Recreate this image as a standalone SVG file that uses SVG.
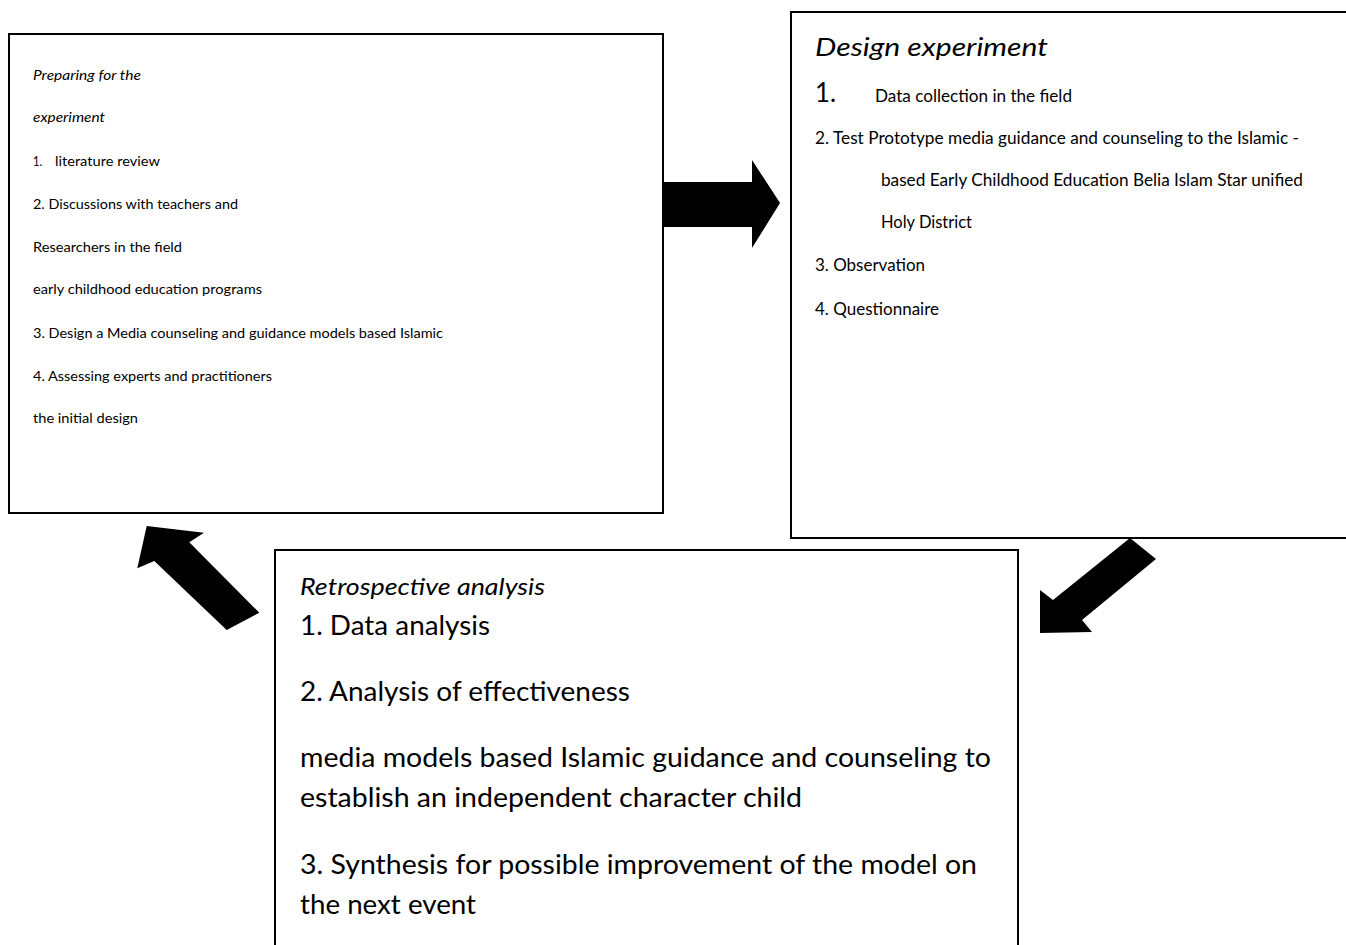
<svg xmlns="http://www.w3.org/2000/svg" width="1346" height="945" viewBox="0 0 1346 945">
  <style>
    .box { fill: #fff; stroke: #000; stroke-width: 2; }
    .t { font-family: Lato, "Open Sans", "Liberation Sans", sans-serif; fill: #000; }
    .it { font-style: italic; }
    .sm { font-size: 14px; }
    .md { font-size: 16.6px; }
    .lg { font-size: 26px; }
    .bd { font-size: 27px; }
    .arrow { fill: #000; stroke: none; }
  </style>

  <rect x="0" y="0" width="1346" height="945" fill="#fff"/>

  <!-- Phase 1: preparing for the experiment -->
  <g id="node-preparing">
    <rect class="box" x="9" y="34" width="654" height="479"/>
    <g class="t sm">
      <text class="it" x="33" y="80" textLength="108" lengthAdjust="spacingAndGlyphs">Preparing for the</text>
      <text class="it" x="33" y="122" textLength="72" lengthAdjust="spacingAndGlyphs">experiment</text>
      <text x="33" y="166" textLength="9" lengthAdjust="spacingAndGlyphs">1.</text>
      <text x="55" y="166" textLength="105" lengthAdjust="spacingAndGlyphs">literature review</text>
      <text x="33" y="209" textLength="205" lengthAdjust="spacingAndGlyphs">2. Discussions with teachers and</text>
      <text x="33" y="252" textLength="149" lengthAdjust="spacingAndGlyphs">Researchers in the field</text>
      <text x="33" y="294" textLength="229" lengthAdjust="spacingAndGlyphs">early childhood education programs</text>
      <text x="33" y="338" textLength="410" lengthAdjust="spacingAndGlyphs">3. Design a Media counseling and guidance models based Islamic</text>
      <text x="33" y="381" textLength="239" lengthAdjust="spacingAndGlyphs">4. Assessing experts and practitioners</text>
      <text x="33" y="423" textLength="105" lengthAdjust="spacingAndGlyphs">the initial design</text>
    </g>
  </g>

  <!-- Phase 2: design experiment -->
  <g id="node-design">
    <rect class="box" x="791" y="12" width="600" height="526"/>
    <g class="t">
      <text class="lg it" x="815" y="56" textLength="233" lengthAdjust="spacingAndGlyphs">Design experiment</text>
      <text class="lg" x="815" y="102" textLength="21" lengthAdjust="spacingAndGlyphs">1.</text>
      <text class="md" x="875" y="102" textLength="197" lengthAdjust="spacingAndGlyphs">Data collection in the field</text>
      <text class="md" x="815" y="144" textLength="484" lengthAdjust="spacingAndGlyphs">2. Test Prototype media guidance and counseling to the Islamic -</text>
      <text class="md" x="881" y="186" textLength="422" lengthAdjust="spacingAndGlyphs">based Early Childhood Education Belia Islam Star unified</text>
      <text class="md" x="881" y="228" textLength="91" lengthAdjust="spacingAndGlyphs">Holy District</text>
      <text class="md" x="815" y="271" textLength="110" lengthAdjust="spacingAndGlyphs">3. Observation</text>
      <text class="md" x="815" y="315" textLength="124" lengthAdjust="spacingAndGlyphs">4. Questionnaire</text>
    </g>
  </g>

  <!-- Phase 3: retrospective analysis -->
  <g id="node-retrospective">
    <rect class="box" x="275" y="550" width="743" height="420"/>
    <g class="t bd">
      <text class="it" x="300" y="595" font-size="23" textLength="245" lengthAdjust="spacingAndGlyphs">Retrospective analysis</text>
      <text x="300" y="635" textLength="190" lengthAdjust="spacingAndGlyphs">1. Data analysis</text>
      <text x="300" y="701" textLength="330" lengthAdjust="spacingAndGlyphs">2. Analysis of effectiveness</text>
      <text x="300" y="767" textLength="691" lengthAdjust="spacingAndGlyphs">media models based Islamic guidance and counseling to</text>
      <text x="300" y="807" textLength="502" lengthAdjust="spacingAndGlyphs">establish an independent character child</text>
      <text x="300" y="874" textLength="677" lengthAdjust="spacingAndGlyphs">3. Synthesis for possible improvement of the model on</text>
      <text x="300" y="914" textLength="176" lengthAdjust="spacingAndGlyphs">the next event</text>
    </g>
  </g>

  <!-- Block arrows linking the three phases in a cycle -->
  <g id="connectors">
    <polygon class="arrow" points="663,182 752,182 752,160 780,203 752,248 752,227 663,227"/>
    <polygon class="arrow" points="1130,538 1156,559 1082,620 1092,632 1040,633 1040,590 1053,600"/>
    <polygon class="arrow" points="226.7,630 259.3,612.7 189.3,542.3 204,532.7 146.7,526 137.3,568.3 154.3,561"/>
  </g>
</svg>
